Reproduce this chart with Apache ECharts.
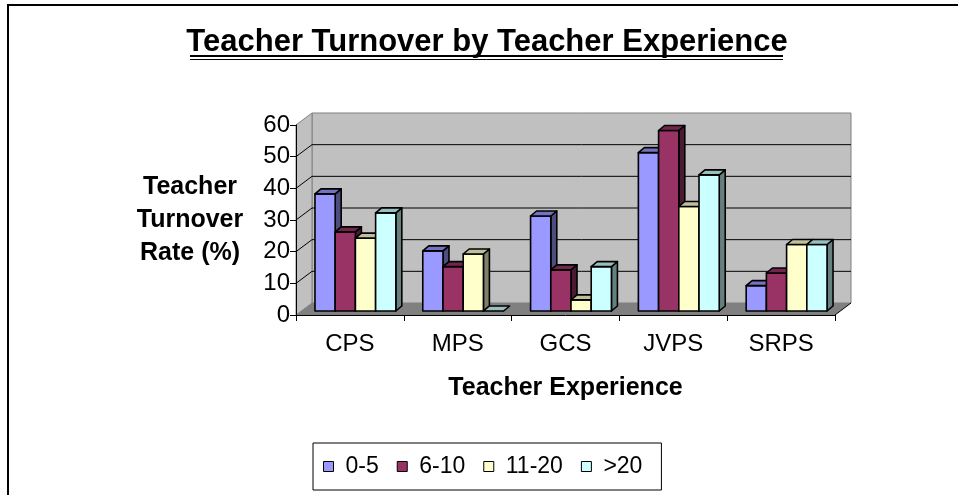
<!DOCTYPE html>
<html>
<head>
<meta charset="utf-8">
<script src="https://cdn.jsdelivr.net/npm/echarts@6/dist/echarts.min.js"></script>
<style>html,body{margin:0;padding:0;background:#fff}#c{width:958px;height:495px}</style>
</head>
<body>
<div id="c"></div>
<script>
const categories = ['CPS', 'MPS', 'GCS', 'JVPS', 'SRPS'];
const groupNames = ['0-5', '6-10', '11-20', '>20'];
const exp0to5 = [37, 19, 30, 50, 8];
const exp6to10 = [25, 14, 13, 57, 12];
const exp11to20 = [23, 18, 3.5, 33, 21];
const expOver20 = [31, 0, 14, 43, 21];
const yTicks = [0, 10, 20, 30, 40, 50, 60];

const seriesValues = [exp0to5, exp6to10, exp11to20, expOver20];
const faceColors = [
  { front: '#9999FF', top: '#7373BF', side: '#4D4D80' },
  { front: '#993366', top: '#73264D', side: '#4D1A33' },
  { front: '#FFFFCC', top: '#BFBF99', side: '#80806A' },
  { front: '#CCFFFF', top: '#99BFBF', side: '#668080' }
];

const FONT = 'Liberation Sans, Arial, sans-serif';
const WALL_DX = 16, WALL_DY = -12;   // depth offset of the back wall
const BAR_DX = 5.5, BAR_DY = -4;     // bar plane offset
const SIDE_DX = 6, SIDE_DY = -5;     // bar depth
const BAR_FRAC = 0.1875;

function wallRender(params, api) {
  const cs = params.coordSys;
  const x0 = cs.x, x1 = cs.x + cs.width;
  const yTop = cs.y, yBot = cs.y + cs.height;
  const children = [];
  children.push({ type: 'polygon', shape: { points: [[x0 + WALL_DX, yTop + WALL_DY], [x1 + WALL_DX, yTop + WALL_DY], [x1 + WALL_DX, yBot + WALL_DY], [x0 + WALL_DX, yBot + WALL_DY]] },
    style: { fill: '#C0C0C0', stroke: '#808080', lineWidth: 1 } });
  children.push({ type: 'polygon', shape: { points: [[x0, yTop], [x0 + WALL_DX, yTop + WALL_DY], [x0 + WALL_DX, yBot + WALL_DY], [x0, yBot]] },
    style: { fill: '#C0C0C0', stroke: '#808080', lineWidth: 1 } });
  yTicks.forEach(function (t) {
    if (t === 0 || t === yTicks[yTicks.length - 1]) return;
    const y = api.coord([0, t])[1];
    children.push({ type: 'polyline', shape: { points: [[x0, y], [x0 + WALL_DX, y + WALL_DY], [x1 + WALL_DX, y + WALL_DY]] },
      style: { fill: null, stroke: '#000', lineWidth: 1 } });
  });
  children.push({ type: 'polygon', shape: { points: [[x0, yBot], [x1, yBot], [x1 + WALL_DX, yBot + WALL_DY], [x0 + WALL_DX, yBot + WALL_DY]] },
    style: { fill: '#808080', stroke: null } });
  children.push({ type: 'line', shape: { x1: x1, y1: yBot, x2: x1 + WALL_DX, y2: yBot + WALL_DY },
    style: { stroke: '#000', lineWidth: 1 } });
  return { type: 'group', children: children };
}

function makeBarRender(s) {
  return function (params, api) {
    const ci = api.value(0), v = api.value(1);
    const base = api.coord([ci, 0]);
    const top = api.coord([ci, v]);
    const catW = api.size([1, 0])[0];
    const bw = catW * BAR_FRAC;
    const x = base[0] - bw * 2 + s * bw + BAR_DX;
    const yb = base[1] + BAR_DY, yt = top[1] + BAR_DY;
    const c = faceColors[s];
    const line = { stroke: '#000', lineWidth: 1.6, lineJoin: 'round' };
    const ch = [];
    if (yb - yt > 0.5) {
      ch.push({ type: 'polygon', shape: { points: [[x + bw, yt], [x + bw + SIDE_DX, yt + SIDE_DY], [x + bw + SIDE_DX, yb + SIDE_DY], [x + bw, yb]] },
        style: Object.assign({ fill: c.side }, line) });
      ch.push({ type: 'rect', shape: { x: x, y: yt, width: bw, height: yb - yt }, style: Object.assign({ fill: c.front }, line) });
    }
    ch.push({ type: 'polygon', shape: { points: [[x, yt], [x + SIDE_DX, yt + SIDE_DY], [x + bw + SIDE_DX, yt + SIDE_DY], [x + bw, yt]] },
      style: Object.assign({ fill: c.top }, line) });
    return { type: 'group', children: ch };
  };
}

const series = [{
  type: 'custom', name: 'walls', z: 0, clip: false, silent: true,
  data: [[0, 0]], renderItem: wallRender
}];
groupNames.forEach(function (n, s) {
  series.push({
    type: 'custom', name: n, z: 2 + s, clip: false,
    itemStyle: { color: faceColors[s].front, borderColor: '#000', borderWidth: 1 },
    encode: { x: 0, y: 1 },
    data: seriesValues[s].map(function (v, i) { return [i, v]; }),
    renderItem: makeBarRender(s)
  });
});

const chart = echarts.init(document.getElementById('c'), null, { renderer: 'canvas' });
chart.setOption({
  animation: false,
  backgroundColor: '#fff',
  textStyle: { fontFamily: FONT },
  grid: { left: 296, top: 125, width: 539, height: 190 },
  xAxis: {
    type: 'category', data: categories, z: 10,
    axisLine: { show: true, lineStyle: { color: '#000', width: 1 } },
    axisTick: { show: true, length: 6, lineStyle: { color: '#000' } },
    axisLabel: { color: '#000', fontSize: 24, margin: 17, fontFamily: FONT },
    name: 'Teacher Experience', nameLocation: 'middle', nameGap: 61,
    nameTextStyle: { color: '#000', fontSize: 25, fontWeight: 'bold', fontFamily: FONT },
    splitLine: { show: false }
  },
  yAxis: {
    type: 'value', min: 0, max: 60, interval: 10, z: 10,
    axisLine: { show: true, lineStyle: { color: '#000', width: 1 } },
    axisTick: { show: true, length: 6, lineStyle: { color: '#000' } },
    axisLabel: { color: '#000', fontSize: 24, margin: 6, fontFamily: FONT },
    splitLine: { show: false },
    name: 'Teacher\nTurnover\nRate (%)', nameLocation: 'middle', nameGap: 106, nameRotate: 0,
    nameTextStyle: { color: '#000', fontSize: 25, fontWeight: 'bold', fontFamily: FONT, lineHeight: 33, align: 'center', verticalAlign: 'middle' }
  },
  legend: {
    data: groupNames, left: 313, top: 443, orient: 'horizontal',
    padding: [12, 19, 12, 10], itemGap: 18, itemWidth: 10, itemHeight: 10, icon: 'rect',
    borderColor: '#000', borderWidth: 1, backgroundColor: '#fff',
    itemStyle: { borderColor: '#000', borderWidth: 1 },
    textStyle: { color: '#000', fontSize: 23, fontFamily: FONT, padding: [0, 0, 0, 7] },
    selectedMode: false
  },
  graphic: [
    { type: 'rect', shape: { x: 8, y: 5, width: 1200, height: 800 }, style: { fill: null, stroke: '#000', lineWidth: 2 }, z: 100 },
    { type: 'text', x: 487, y: 42, style: { text: 'Teacher Turnover by Teacher Experience', font: 'bold 31px ' + FONT, fill: '#000', textAlign: 'center', textVerticalAlign: 'middle' }, z: 100 },
    { type: 'line', shape: { x1: 190, y1: 56, x2: 783, y2: 56 }, style: { stroke: '#000', lineWidth: 2 }, z: 100 },
    { type: 'line', shape: { x1: 190, y1: 59.5, x2: 783, y2: 59.5 }, style: { stroke: '#000', lineWidth: 1 }, z: 100 }
  ],
  series: series
});
</script>
</body>
</html>
